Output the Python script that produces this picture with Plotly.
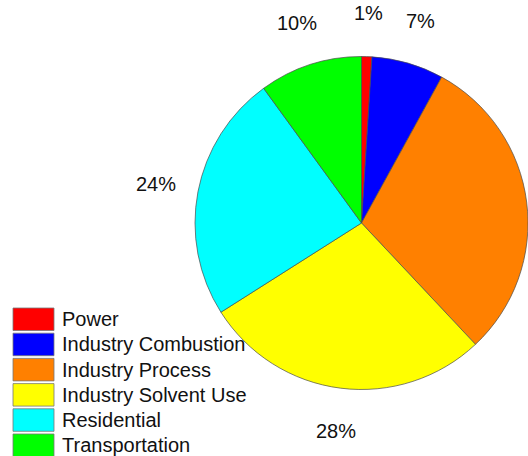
import math
import plotly.graph_objects as go

# Emission shares by sector (percent)
sectors = ["Power", "Industry Combustion", "Industry Process",
           "Industry Solvent Use", "Residential", "Transportation"]
shares = [1, 7, 30, 28, 24, 10]
colors = ["#FF0000", "#0000FF", "#FF8000", "#FFFF00", "#00FFFF", "#00FF00"]

W, H = 528, 456
FONT = "Liberation Sans, Arial, sans-serif"

# Pie placement in pixels
cx, cy, R = 362, 223, 167
label_r = 210

fig = go.Figure(
    go.Pie(
        labels=sectors,
        values=shares,
        sort=False,
        direction="clockwise",
        rotation=0,
        marker=dict(colors=colors, line=dict(color="#4a4a4a", width=0.7)),
        textinfo="none",
        hoverinfo="label+percent",
        domain=dict(x=[(cx - R) / W, 1.0],
                    y=[(H - (cy + R)) / H, (H - (cy - R)) / H]),
        showlegend=False,
    )
)

# Percentage labels placed outside each slice along its mid angle;
# a label whose anchor falls past the page edge is not drawn
annotations = []
total = sum(shares)
cum = 0.0
for v in shares:
    mid = (cum + v / 2) / total * 2 * math.pi
    cum += v
    px = cx + label_r * math.sin(mid)
    py = cy - label_r * math.cos(mid)
    if not (0 <= px <= W and 0 <= py <= H):
        continue
    annotations.append(dict(
        x=px / W, y=1 - py / H, xref="paper", yref="paper",
        text=f"{round(v / total * 100)}%", showarrow=False,
        xanchor="center", yanchor="middle",
        font=dict(family=FONT, size=20, color="#111111"),
    ))

# Legend drawn as swatches with text, stacked in the lower-left corner
shapes = []
lx0, lx1, ly0, step, sh = 13, 54, 308, 25.2, 22.5
for i, (name, col) in enumerate(zip(sectors, colors)):
    top = ly0 + i * step
    shapes.append(dict(
        type="rect", xref="paper", yref="paper", layer="above",
        x0=lx0 / W, x1=lx1 / W, y0=1 - top / H, y1=1 - (top + sh) / H,
        fillcolor=col, line=dict(color="#777777", width=0.8),
    ))
    annotations.append(dict(
        x=60 / W, y=1 - (top + sh / 2) / H, xref="paper", yref="paper",
        text=name, showarrow=False, xanchor="left", yanchor="middle",
        font=dict(family=FONT, size=20, color="#111111"),
    ))

fig.update_layout(
    width=W, height=H,
    margin=dict(l=0, r=0, t=0, b=0),
    paper_bgcolor="white", plot_bgcolor="white",
    annotations=annotations, shapes=shapes,
)

fig.write_html("out.html")
